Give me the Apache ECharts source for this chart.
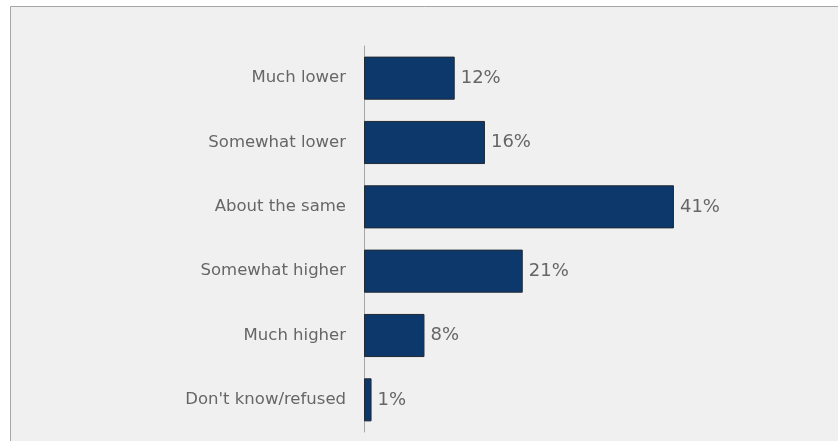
<!DOCTYPE html>
<html>
<head>
<meta charset="utf-8">
<script src="https://cdn.jsdelivr.net/npm/echarts@6/dist/echarts.min.js"></script>
<style>
  html, body { margin: 0; padding: 0; background: #fff; }
  #main { width: 838px; height: 441px; }
</style>
</head>
<body>
<div id="main"></div>
<script>
const categories = ['Much lower', 'Somewhat lower', 'About the same', 'Somewhat higher', 'Much higher', "Don't know/refused"];
const shares = [12, 16, 41, 21, 8, 1];

const myChart = echarts.init(document.getElementById('main'));
const option = {
    backgroundColor: '#ffffff',
    animation: false,
    textStyle: { fontFamily: 'DejaVu Sans' },
    graphic: [{
        type: 'rect',
        shape: { x: 10.5, y: 6.5, width: 840, height: 450 },
        style: { fill: '#f0f0f0', stroke: '#a6a6a6', lineWidth: 1 },
        z: -10
    }],
    grid: { left: 364, top: 46, width: 378, height: 386 },
    xAxis: {
        type: 'value',
        min: 0,
        max: 50,
        show: false
    },
    yAxis: {
        type: 'category',
        data: categories,
        inverse: true,
        axisLine: { show: true, lineStyle: { color: '#a6a6a6', width: 1 } },
        axisTick: { show: false },
        axisLabel: { color: '#666666', fontSize: 16.5, margin: 18 }
    },
    series: [{
        type: 'bar',
        data: shares,
        barCategoryGap: '33%',
        itemStyle: { color: '#0d386b', borderColor: '#222a33', borderWidth: 1 },
        label: {
            show: true,
            position: 'right',
            distance: 6,
            color: '#666666',
            fontSize: 18,
            formatter: function (p) { return p.value + '%'; }
        }
    }]
};
myChart.setOption(option);
</script>
</body>
</html>
